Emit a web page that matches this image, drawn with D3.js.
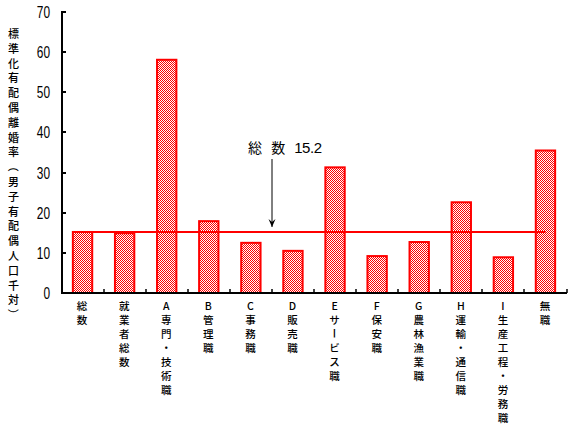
<!DOCTYPE html>
<html><head><meta charset="utf-8">
<script src="https://cdn.jsdelivr.net/npm/d3@7"></script>
<style>
html,body{margin:0;padding:0;background:#fff;}
svg{display:block;}
</style></head>
<body>
<svg id="chart" width="571" height="432"></svg>
<script>
const categories = ["総数","就業者総数","A専門・技術職","B管理職","C事務職","D販売職","Eサービス職","F保安職","G農林漁業職","H運輸・通信職","I生産工程・労務職","無職"];
const values = [15.2, 14.9, 58.1, 17.9, 12.5, 10.5, 31.3, 9.2, 12.7, 22.6, 8.9, 35.5];
const totalValue = 15.2;
const totalLabel = "総 数";
const yTicks = [0,10,20,30,40,50,60,70];
const yTitle = "標準化有配偶離婚率（男子有配偶人口千対）";

const svg = d3.select("#chart");
const CJK = "'Noto Sans CJK JP','Noto Sans CJK SC',sans-serif";
const NUM = "'Liberation Sans',Arial,sans-serif";
const RED = "#ff0000";

const x = d3.scaleBand().domain(categories).range([61.5, 566.5]).padding(0);
const y = d3.scaleLinear().domain([0,70]).range([293, 12]);

// pattern
const defs = svg.append("defs");
const pat = defs.append("pattern").attr("id","chk").attr("patternUnits","userSpaceOnUse")
  .attr("width",2).attr("height",2);
pat.append("rect").attr("width",2).attr("height",2).attr("fill","#fff");
pat.append("rect").attr("x",0).attr("y",0).attr("width",1).attr("height",1).attr("fill",RED);
pat.append("rect").attr("x",1).attr("y",1).attr("width",1).attr("height",1).attr("fill",RED);

// bars
const bw = x.bandwidth()*0.46;
svg.append("g").selectAll("rect").data(values).join("rect")
  .attr("x",(d,i)=>x(categories[i]) + x.bandwidth()/2 - bw/2)
  .attr("y",d=>y(d))
  .attr("width",bw)
  .attr("height",d=>y(0)-y(d))
  .attr("fill","url(#chk)")
  .attr("stroke",RED).attr("stroke-width",2);

// total line
svg.append("line")
  .attr("x1", x(categories[0]) + x.bandwidth()/2)
  .attr("x2", x(categories[categories.length-1]) + x.bandwidth()/2)
  .attr("y1", y(totalValue)).attr("y2", y(totalValue))
  .attr("stroke",RED).attr("stroke-width",2);

// axes
svg.append("line").attr("x1",62).attr("x2",62).attr("y1",y(70)-1).attr("y2",y(0)+1)
  .attr("stroke","#000").attr("stroke-width",2);
svg.append("line").attr("x1",61).attr("x2",567).attr("y1",y(0)).attr("y2",y(0))
  .attr("stroke","#000").attr("stroke-width",2);
// y ticks (inward)
svg.append("g").selectAll("line").data(yTicks).join("line")
  .attr("x1",62).attr("x2",66).attr("y1",d=>Math.round(y(d))).attr("y2",d=>Math.round(y(d)))
  .attr("stroke","#000").attr("stroke-width",2);
// y tick labels
svg.append("g").selectAll("text").data(yTicks).join("text")
  .attr("transform",d=>`translate(50,${y(d)+6}) scale(0.72,1)`)
  .attr("text-anchor","end")
  .attr("font-family",NUM)
  .attr("font-size",16.5)
  .attr("fill","#000")
  .text(d=>d);
// x ticks at band boundaries (inward)
svg.append("g").selectAll("line").data(categories.slice(1).concat([null])).join("line")
  .attr("x1",(d,i)=>Math.round(i<categories.length-1 ? x(d) : x(categories[categories.length-1])+x.bandwidth()))
  .attr("x2",(d,i)=>Math.round(i<categories.length-1 ? x(d) : x(categories[categories.length-1])+x.bandwidth()))
  .attr("y1",y(0)).attr("y2",y(0)-4)
  .attr("stroke","#000").attr("stroke-width",1.5);

// vertical text helper (one text per character)
const rotChars = new Set(["ー","（","）"]);
function vtext(g, str, cx, y0, step, size, weight){
  Array.from(str).forEach((ch,i)=>{
    const cy = y0 + i*step;
    g.append("text")
      .attr("x",cx).attr("y",cy)
      .attr("text-anchor","middle")
      .attr("dominant-baseline","central")
      .attr("font-family",CJK)
      .attr("font-size",size)
      .attr("font-weight",weight||400)
      .attr("fill","#000")
      .attr("transform", rotChars.has(ch) ? `rotate(90,${cx},${cy})` : null)
      .text(ch);
  });
}

// x labels
const xl = svg.append("g");
categories.forEach(c=>{
  vtext(xl, c, x(c)+x.bandwidth()/2 - 0.5, 305, 14.07, 10.5, 500);
});

// y title
vtext(svg.append("g"), yTitle, 13.5, 33, 14.8, 11, 500);

// annotation
const ax = Math.round(x(categories[5]));
const tipY = y(totalValue) - 5;
svg.append("line").attr("x1",ax).attr("x2",ax).attr("y1",159).attr("y2",tipY)
  .attr("stroke","#000").attr("stroke-width",1);
svg.append("path")
  .attr("d",`M${ax-3.5},${tipY-8} L${ax},${tipY} L${ax+3.5},${tipY-8} L${ax},${tipY-5} Z`)
  .attr("fill","#000");
const at = svg.append("text").attr("x",ax-24).attr("y",152.5)
  .attr("font-family",CJK).attr("font-size",14).attr("fill","#000")
  .attr("xml:space","preserve").style("white-space","pre");
at.append("tspan").attr("letter-spacing",3).text(totalLabel + " ");
at.append("tspan").attr("font-family",NUM).attr("font-size",15).attr("letter-spacing",-0.5).text(totalValue.toFixed(1));
</script>
</body></html>
